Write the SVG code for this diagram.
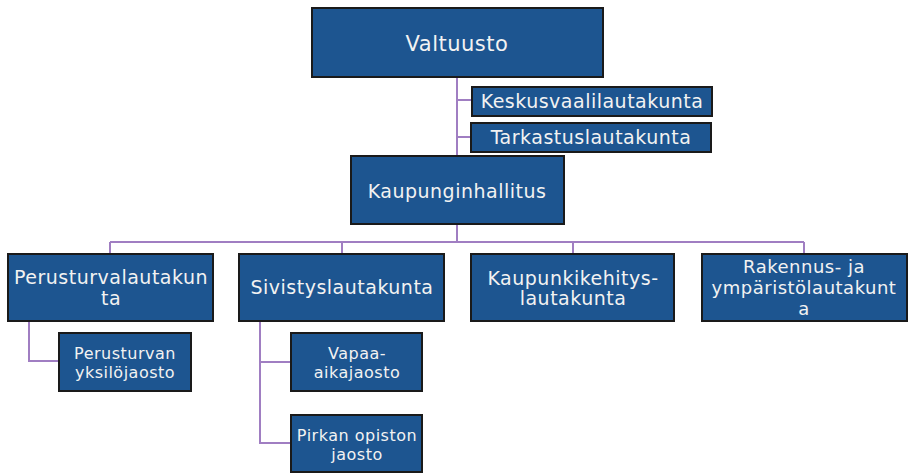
<svg xmlns="http://www.w3.org/2000/svg" width="908" height="473" viewBox="0 0 908 473">
<style>
.box{fill:#1D5590;stroke:#1a1a1a;stroke-width:2}
.t{font-family:"DejaVu Sans",sans-serif;fill:#F2F2F2;text-anchor:middle;letter-spacing:0.5px}
.c{fill:none;stroke:#A07EC2;stroke-width:2}
</style>
<rect width="908" height="473" fill="#ffffff"/>
<g id="connectors">
<path class="c" d="M457 77V156"/>
<path class="c" d="M457 100H472M457 137H471"/>
<path class="c" d="M457 224V242M110 242H804M110 242V254M342 242V254M573 242V254M804 242V254"/>
<path class="c" d="M29 321V361H59"/>
<path class="c" d="M260 321V443H291M260 362H291"/>
</g>
<g id="valtuusto"><rect class="box" x="312" y="8" width="291" height="69"/><text class="t" x="457" y="51" font-size="21">Valtuusto</text></g>
<g id="keskusvaalilautakunta"><rect class="box" x="472" y="87" width="240" height="29"/><text class="t" x="592" y="108" font-size="19">Keskusvaalilautakunta</text></g>
<g id="tarkastuslautakunta"><rect class="box" x="471" y="123" width="240" height="29"/><text class="t" x="591" y="144" font-size="19">Tarkastuslautakunta</text></g>
<g id="kaupunginhallitus"><rect class="box" x="351" y="156" width="213" height="68"/><text class="t" x="457" y="198" font-size="19">Kaupunginhallitus</text></g>
<g id="perusturvalautakunta"><rect class="box" x="8" y="254" width="205" height="67"/><text class="t" font-size="19"><tspan x="111" y="284">Perusturvalautakun</tspan><tspan x="111" y="305">ta</tspan></text></g>
<g id="sivistyslautakunta"><rect class="box" x="239" y="254" width="205" height="67"/><text class="t" x="342" y="294" font-size="19">Sivistyslautakunta</text></g>
<g id="kaupunkikehityslautakunta"><rect class="box" x="471" y="254" width="203" height="67"/><text class="t" font-size="19"><tspan x="573" y="285">Kaupunkikehitys-</tspan><tspan x="573" y="305">lautakunta</tspan></text></g>
<g id="rakennuslautakunta"><rect class="box" x="702" y="254" width="205" height="67"/><text class="t" font-size="18"><tspan x="804" y="273">Rakennus- ja</tspan><tspan x="804" y="294">ympäristölautakunt</tspan><tspan x="804" y="315">a</tspan></text></g>
<g id="perusturvan-yksilojaosto"><rect class="box" x="59" y="333" width="132" height="58"/><text class="t" font-size="16"><tspan x="125" y="359">Perusturvan</tspan><tspan x="125" y="378">yksilöjaosto</tspan></text></g>
<g id="vapaa-aikajaosto"><rect class="box" x="291" y="333" width="131" height="58"/><text class="t" font-size="16"><tspan x="357" y="359">Vapaa-</tspan><tspan x="357" y="378">aikajaosto</tspan></text></g>
<g id="pirkan-opiston-jaosto"><rect class="box" x="291" y="415" width="131" height="57"/><text class="t" font-size="16"><tspan x="357" y="441">Pirkan opiston</tspan><tspan x="357" y="460">jaosto</tspan></text></g>
</svg>
